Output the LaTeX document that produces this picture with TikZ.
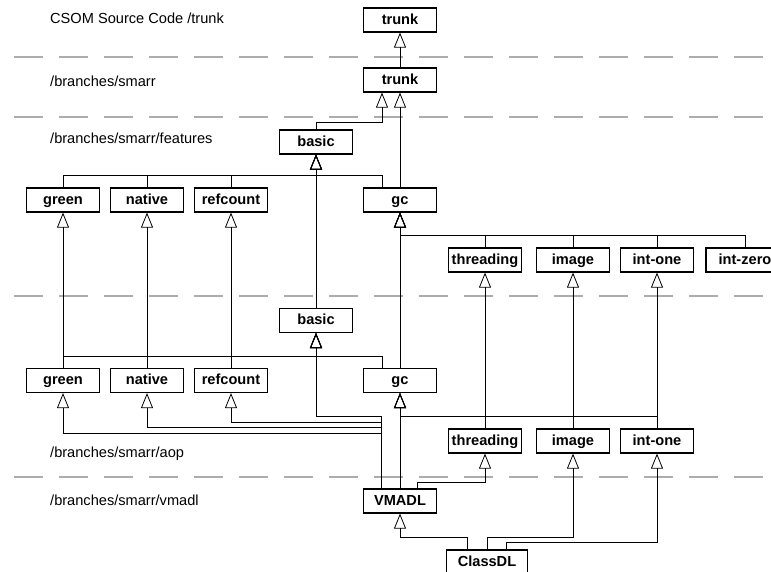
\documentclass[tikz,border=0pt]{standalone}
\usepackage{fontspec}
\setmainfont{Liberation Sans}
\usetikzlibrary{arrows.meta}

\begin{document}
\begin{tikzpicture}[x=1pt,y=1pt]
\tikzstyle{every node}+=[inner sep=0pt]
\tikzstyle{cls}=[draw,line width=1.2pt,minimum width=73pt,minimum height=24pt,text height=11pt,text depth=2.5pt,font=\fontsize{14.6}{17}\selectfont\bfseries]
\tikzstyle{inh}=[line width=0.8pt,-{Triangle[open,length=15pt,width=12pt]}]
\tikzstyle{sep}=[gray!65,line width=1.8pt,dash pattern=on 29pt off 16pt]
\tikzstyle{lbl}=[anchor=base west,font=\fontsize{14.6}{17}\selectfont]
\useasboundingbox (0,0) rectangle (771,-572);
\clip (0,0) rectangle (771,-572);
\fill [white] (0,0) rectangle (771,-572);
\draw [sep] (14,-57) -- (800,-57);
\draw [sep] (14,-117) -- (800,-117);
\draw [sep] (14,-296) -- (800,-296);
\draw [sep] (14,-477) -- (800,-477);
\node [lbl] (lcsom) at (50,-24) {CSOM Source Code /trunk};
\node [lbl] (lsmarr) at (50,-87) {/branches/smarr};
\node [lbl] (lfeat) at (50,-144) {/branches/smarr/features};
\node [lbl] (laop) at (50,-457) {/branches/smarr/aop};
\node [lbl] (lvmadl) at (50,-505) {/branches/smarr/vmadl};
\node [cls] (trunk0) at (400,-20) {trunk};
\node [cls] (trunk1) at (400,-80) {trunk};
\node [cls] (basic1) at (316,-142) {basic};
\node [cls] (green1) at (63,-200) {green};
\node [cls] (native1) at (147,-200) {native};
\node [cls] (refcount1) at (231,-200) {refcount};
\node [cls] (gc1) at (400,-200) {gc};
\node [cls] (threading1) at (485,-260) {threading};
\node [cls] (image1) at (573,-260) {image};
\node [cls] (intone1) at (657,-260) {int-one};
\node [cls,minimum width=78pt] (intzero1) at (745,-260) {int-zero};
\node [cls] (basic2) at (316,-320.5) {basic};
\node [cls] (green2) at (63,-380.5) {green};
\node [cls] (native2) at (147,-380.5) {native};
\node [cls] (refcount2) at (231,-380.5) {refcount};
\node [cls] (gc2) at (400,-380.5) {gc};
\node [cls] (threading2) at (485,-441) {threading};
\node [cls] (image2) at (573,-441) {image};
\node [cls] (intone2) at (657,-441) {int-one};
\node [cls] (vmadl) at (400,-501) {VMADL};
\node [cls,minimum width=81pt] (classdl) at (487,-562) {ClassDL};
\draw [inh] (trunk1.north) -- (trunk0.south);
\draw [inh] (basic1.north) -- ++(0,7) -| ([xshift=-18pt]trunk1.south);
\draw [inh] (gc1.north) -- (trunk1.south);
\foreach \n in {green1,native1,refcount1}
  \draw [inh] (\n.north) -- ++(0,12) -| (basic1.south);
\draw [inh] ([xshift=-18pt]gc1.north) -- ++(0,12) -| (basic1.south);
\draw [inh] (basic2.north) -- (basic1.south);
\foreach \n in {threading1,image1,intone1,intzero1}
  \draw [inh] (\n.north) -- ++(0,12) -| (gc1.south);
\foreach \n in {green,native,refcount,gc,threading,image,intone}
  \draw [inh] (\n2.north) -- (\n1.south);
\foreach \n in {green2,native2,refcount2}
  \draw [inh] (\n.north) -- ++(0,12) -| (basic2.south);
\draw [inh] ([xshift=-18pt]gc2.north) -- ++(0,12) -| (basic2.south);
\foreach \n in {threading2,image2,intone2}
  \draw [inh] (\n.north) -- ++(0,12) -| (gc2.south);
\draw [inh] (vmadl.north) -- (gc2.south);
\foreach \n/\h in {basic2/72,refcount2/66,native2/61,green2/55}
  \draw [inh] ([xshift=-19pt]vmadl.north) -- ++(0,\h) -| (\n.south);
\draw [inh] ([xshift=17pt]vmadl.north) -- ++(0,6) -| (threading2.south);
\draw [inh] ([xshift=-20pt]classdl.north) -- ++(0,12) -| (vmadl.south);
\draw [inh] (classdl.north) -- ++(0,12) -| (image2.south);
\draw [inh] ([xshift=19pt]classdl.north) -- ++(0,7) -| (intone2.south);
\end{tikzpicture}
\end{document}
